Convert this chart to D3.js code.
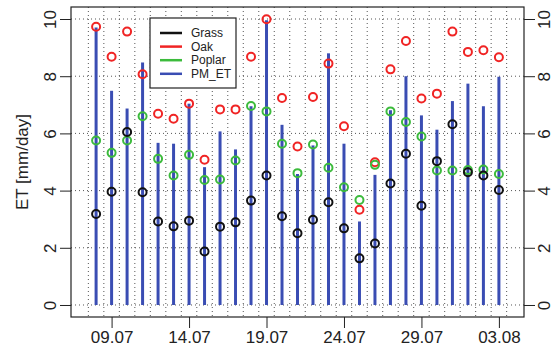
<!DOCTYPE html>
<html>
<head>
<meta charset="utf-8">
<script src="https://cdn.jsdelivr.net/npm/d3@7"></script>
<style>
  body { margin: 0; background: #fff; }
  svg { font-family: "Liberation Sans", Arial, sans-serif; }
</style>
</head>
<body>
<div id="chart"></div>
<script>
// daily values (08.07 - 03.08)
const days = ["08.07","09.07","10.07","11.07","12.07","13.07","14.07","15.07","16.07",
              "17.07","18.07","19.07","20.07","21.07","22.07","23.07","24.07","25.07","26.07",
              "27.07","28.07","29.07","30.07","31.07","01.08","02.08","03.08"];
const pmET   = [9.70, 7.49, 6.87, 8.48, 5.67, 5.64, 7.04, 4.82, 6.07,
                5.44, 6.95, 9.96, 6.30, 4.58, 5.58, 8.80, 5.64, 2.92, 4.55,
                6.81, 8.00, 6.63, 6.13, 7.13, 7.74, 6.95, 7.98];
const oak    = [9.73, 8.68, 9.56, 8.07, 6.69, 6.51, 7.04, 5.08, 6.84,
                6.84, 8.68, 9.99, 7.24, 5.54, 7.27, 8.44, 6.25, 3.33, 4.99,
                8.24, 9.23, 7.22, 7.39, 9.56, 8.85, 8.91, 8.66];
const poplar = [5.75, 5.32, 5.75, 6.60, 5.11, 4.53, 5.25, 4.37, 4.39,
                5.05, 6.96, 6.77, 5.64, 4.61, 5.61, 4.80, 4.12, 3.67, 4.90,
                6.77, 6.40, 5.89, 4.70, 4.70, 4.72, 4.74, 4.58];
const grass  = [3.18, 3.96, 6.05, 3.94, 2.92, 2.75, 2.95, 1.87, 2.74,
                2.89, 3.65, 4.53, 3.10, 2.51, 2.98, 3.59, 2.68, 1.63, 2.15,
                4.25, 5.29, 3.47, 5.03, 6.32, 4.64, 4.53, 4.02];
const xTickLabels = ["09.07","14.07","19.07","24.07","29.07","03.08"];
const yTicks = [0, 2, 4, 6, 8, 10];

const year = "2010";
const parse = d3.timeParse("%d.%m.%Y");
const dates = days.map(d => parse(d + "." + year));
const DAY = 864e5;

const width = 555, height = 353;
const margin = { top: 7, right: 31, bottom: 36, left: 71 };
const plotW = width - margin.left - margin.right,
      plotH = height - margin.top - margin.bottom;

const x = d3.scaleTime()
    .domain([new Date(+dates[0] - 1.62 * DAY), new Date(+dates[dates.length - 1] + 1.62 * DAY)])
    .range([0, plotW]);
const y = d3.scaleLinear().domain([-0.42, 10.42]).range([plotH, 0]);

const cGrass = "#111111", cOak = "#f02424", cPoplar = "#3cbb3c", cPM = "#3a4db3";

const svg = d3.select("#chart").append("svg")
    .attr("width", width).attr("height", height);
const g = svg.append("g").attr("transform", "translate(" + margin.left + "," + margin.top + ")");

// dotted grid
const gridVals = dates.map(d => new Date(+d - DAY / 2)).concat([new Date(+dates[dates.length - 1] + DAY / 2)]);
g.append("g").selectAll("line").data(gridVals).enter().append("line")
    .attr("x1", d => x(d)).attr("x2", d => x(d))
    .attr("y1", 0).attr("y2", plotH)
    .attr("stroke", "#555").attr("stroke-width", 1).attr("stroke-dasharray", "1,3");
g.append("g").selectAll("line").data(yTicks).enter().append("line")
    .attr("x1", 0).attr("x2", plotW)
    .attr("y1", d => y(d)).attr("y2", d => y(d))
    .attr("stroke", "#555").attr("stroke-width", 1).attr("stroke-dasharray", "1,3");

// PM_ET stems
g.append("g").selectAll("line").data(pmET).enter().append("line")
    .attr("x1", (d, i) => x(dates[i])).attr("x2", (d, i) => x(dates[i]))
    .attr("y1", y(0)).attr("y2", d => y(d))
    .attr("stroke", cPM).attr("stroke-width", 3);

// circles
function dots(vals, col) {
  g.append("g").selectAll("circle").data(vals).enter().append("circle")
      .attr("cx", (d, i) => x(dates[i])).attr("cy", d => y(d))
      .attr("r", 4).attr("fill", "none")
      .attr("stroke", col).attr("stroke-width", 2);
}
dots(oak, cOak);
dots(poplar, cPoplar);
dots(grass, cGrass);

// box
g.append("rect").attr("width", plotW).attr("height", plotH)
    .attr("fill", "none").attr("stroke", "#222").attr("stroke-width", 1.2);

// axes
const xAxis = d3.axisBottom(x)
    .tickValues(xTickLabels.map(t => parse(t + "." + year)))
    .tickFormat(d3.timeFormat("%d.%m"))
    .tickSize(11).tickPadding(3);
const gx = g.append("g").attr("transform", "translate(0," + plotH + ")").call(xAxis);
gx.select(".domain").remove();
gx.selectAll("text").attr("font-size", 17).attr("fill", "#222");
gx.selectAll("line").attr("stroke", "#222");

const gyl = g.append("g").call(d3.axisLeft(y).tickValues(yTicks).tickSize(11).tickPadding(8));
const gyr = g.append("g").attr("transform", "translate(" + plotW + ",0)")
    .call(d3.axisRight(y).tickValues(yTicks).tickSize(11).tickPadding(8));
[gyl, gyr].forEach(a => {
  a.select(".domain").remove();
  a.selectAll("line").attr("stroke", "#222");
  a.selectAll("text").attr("font-size", 17).attr("fill", "#222")
      .attr("text-anchor", "middle").attr("dy", null).attr("x", null)
      .attr("dominant-baseline", "central");
});
gyl.selectAll("text").attr("transform", "translate(-21,0) rotate(-90)");
gyr.selectAll("text").attr("transform", "translate(20,0) rotate(-90)");

svg.append("text")
    .attr("transform", "translate(22," + (margin.top + plotH / 2) + ") rotate(-90)")
    .attr("text-anchor", "middle").attr("dominant-baseline", "central")
    .attr("font-size", 17).attr("fill", "#222")
    .text("ET [mm/day]");

// legend
const legend = [["Grass", cGrass], ["Oak", cOak], ["Poplar", cPoplar], ["PM_ET", cPM]];
const lg = svg.append("g").attr("transform", "translate(150,18)");
lg.append("rect").attr("width", 86).attr("height", 70)
    .attr("fill", "#fff").attr("stroke", "#222").attr("stroke-width", 1.2);
legend.forEach((l, i) => {
  const ly = 15 + i * 13.6;
  lg.append("line").attr("x1", 10).attr("x2", 32).attr("y1", ly).attr("y2", ly)
      .attr("stroke", l[1]).attr("stroke-width", 2.5);
  lg.append("text").attr("x", 41).attr("y", ly).attr("dominant-baseline", "central")
      .attr("font-size", 12).attr("fill", "#222").text(l[0]);
});
</script>
</body>
</html>
